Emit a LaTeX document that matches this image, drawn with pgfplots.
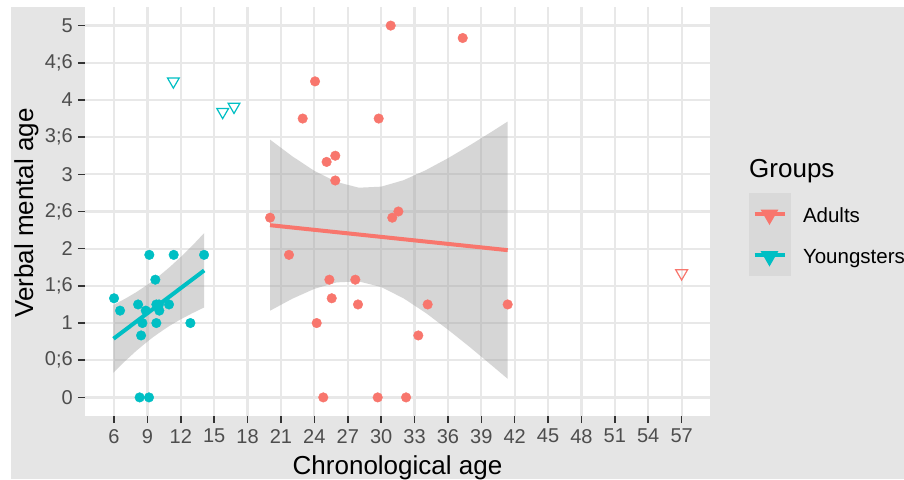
\documentclass[border=0pt]{standalone}
\usepackage{fontspec}
\setmainfont{Liberation Sans}
\usepackage{pgfplots}
\pgfplotsset{compat=1.18}
\definecolor{adult}{HTML}{F8766D}
\definecolor{young}{HTML}{00BFC4}
\definecolor{bg}{HTML}{E5E5E5}
\definecolor{gridc}{HTML}{E8E8E8}
\definecolor{tickc}{HTML}{333333}
\definecolor{labc}{HTML}{4D4D4D}
\definecolor{band}{HTML}{999999}
\definecolor{keybg}{HTML}{D9D9D9}
\newcommand\tickfont{\fontsize{20}{21}\selectfont}
\begin{document}
\begin{tikzpicture}
\useasboundingbox (0pt,0pt) rectangle (904pt,479pt);
\fill[white] (0pt,0pt) rectangle (904pt,479pt);
\fill[bg] (11pt,0pt) rectangle (904pt,472pt);
\begin{axis}[
  at={(85pt,63pt)}, anchor=south west,
  scale only axis, width=625pt, height=409pt,
  xmin=3.39, xmax=59.55, ymin=-0.25, ymax=5.25,
  axis background/.style={fill=white},
  axis line style={draw=none},
  tick align=outside, xtick pos=left, ytick pos=left,
  major tick length=7pt,
  tick style={tickc, line width=1.5pt},
  grid=major,
  major grid style={gridc, line width=2.2pt},
  xtick={6,9,...,57},
  xticklabels={6,9,12,15,18,21,24,27,30,33,36,39,42,45,48,51,54,57},
  ytick={0,0.5,...,5},
  yticklabels={0,0;6,1,1;6,2,2;6,3,3;6,4,4;6,5},
  xticklabel style={font=\tickfont, text=labc, inner sep=0pt, anchor=north, yshift=-6pt},
  yticklabel style={font=\tickfont, text=labc, inner sep=0pt, anchor=east, xshift=-5pt},
  legend style={at={(1.0624,0.5452)}, anchor=north west, draw=none, fill=none,
    inner sep=0pt, outer sep=0pt, row sep=0pt, column sep=12pt,
    font=\fontsize{20.5}{21}\selectfont,
    nodes={inner sep=0pt, text height=27pt, text depth=10.5pt},
    cells={anchor=base west}},
]
% youngsters
\addplot[only marks, mark=*, color=young, mark size=4.8pt, forget plot] coordinates {
(6.0,1.333) (6.54,1.167) (8.16,1.25) (8.85,1.167) (8.55,1.0) (8.43,0.833)
(9.17,1.917) (9.71,1.583) (9.8,1.25) (10.04,1.25) (10.07,1.167) (9.8,1.0)
(10.94,1.25) (11.36,1.917) (12.86,1.0) (14.09,1.917) (8.3,0) (9.14,0)};
% adults
\addplot[only marks, mark=*, color=adult, mark size=4.8pt, forget plot] coordinates {
(30.86,5) (37.33,4.833) (24.06,4.25) (22.95,3.75) (29.78,3.75) (25.1,3.167)
(25.88,3.25) (25.88,2.917) (20.02,2.417) (31.0,2.417) (31.55,2.5) (21.72,1.917)
(25.35,1.583) (27.68,1.583) (25.56,1.333) (27.92,1.25) (34.18,1.25) (41.37,1.25)
(24.21,1.0) (33.34,0.833) (24.8,0) (29.69,0) (32.24,0)};
% outliers
\addplot[only marks, mark=triangle, mark size=6.8pt, color=young, mark options={rotate=180, line width=1.2pt}, forget plot] coordinates {
(11.33,4.25) (15.76,3.84) (16.78,3.91)};
\addplot[only marks, mark=triangle, mark size=6.8pt, color=adult, mark options={rotate=180, line width=1.2pt}, forget plot] coordinates {
(57,1.67)};
% confidence bands
\addplot[fill=band, fill opacity=0.4, draw=none, forget plot] coordinates {
(5.95,1.244) (7,1.327) (8,1.415) (9,1.515) (9.5,1.569) (10,1.627) (11,1.752)
(12,1.889) (13,2.036) (14.1,2.21)
(14.1,1.21) (13,1.130) (12,1.051) (11,0.964) (10,0.863) (9.5,0.809) (9,0.751)
(8,0.627) (7,0.489) (5.95,0.334)} -- cycle;
\addplot[fill=band, fill opacity=0.4, draw=none, forget plot] coordinates {
(20.02,3.466) (22,3.244) (24,3.046) (26,2.897) (28,2.820) (30,2.834) (32,2.920)
(34,3.055) (36,3.216) (38,3.393) (40,3.579) (41.37,3.710)
(41.37,0.250) (40,0.423) (38,0.673) (36,0.912) (34,1.137) (32,1.334) (30,1.484)
(28,1.560) (26,1.547) (24,1.460) (22,1.326) (20.02,1.166)} -- cycle;
% fitted lines
\addplot[adult, line width=4pt, no marks,
  legend image code/.code={
    \fill[keybg] (0pt,-10.5pt) rectangle (38pt,27pt);
    \draw[adult, line width=4pt] (3.7pt,8.3pt) -- (33.7pt,8.3pt);
    \fill[adult] (13pt,10.5pt) -- (24pt,10.5pt) -- (18.5pt,1pt) -- cycle;}]
  coordinates {(20.02,2.316) (41.37,1.98)};
\addlegendentry{Adults}
\addplot[young, line width=4pt, no marks,
  legend image code/.code={
    \fill[keybg] (0pt,-10.5pt) rectangle (38pt,27pt);
    \draw[young, line width=4pt] (3.7pt,8.3pt) -- (33.7pt,8.3pt);
    \fill[young] (13pt,10.5pt) -- (24pt,10.5pt) -- (18.5pt,1pt) -- cycle;}]
  coordinates {(5.95,0.789) (14.1,1.707)};
\addlegendentry{Youngsters}
\end{axis}
\node[anchor=base, font=\fontsize{26}{28}\selectfont] at (397.5pt,5pt) {Chronological age};
\node[anchor=base, rotate=90, font=\fontsize{26}{28}\selectfont] at (33pt,266pt) {Verbal mental age};
\node[anchor=base west, inner sep=0pt, font=\fontsize{26}{28}\selectfont] at (749pt,301pt) {Groups};
\end{tikzpicture}
\end{document}
